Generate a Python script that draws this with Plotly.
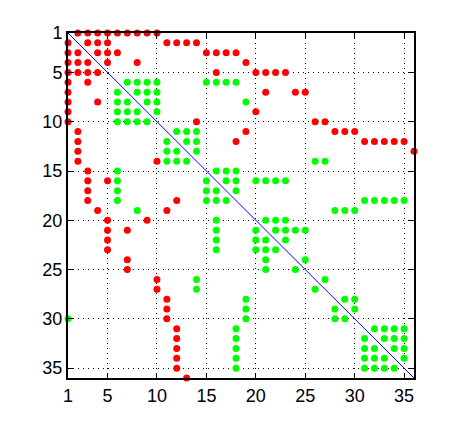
import plotly.graph_objects as go

n = 36
tick_vals = [1, 5, 10, 15, 20, 25, 30, 35]

red_by_row = {
    1: [2, 3, 4, 5, 6, 7, 8, 9, 10],
    2: [1, 3, 4, 5, 11, 12, 13, 14],
    3: [1, 2, 4, 5, 6, 15, 16, 17, 18],
    4: [1, 2, 3, 5, 8, 19],
    5: [1, 2, 3, 4, 16, 20, 21, 22, 23],
    6: [1, 3],
    7: [1, 21, 24, 25],
    8: [1, 4],
    9: [1, 20],
    10: [1, 14, 26, 27],
    11: [2, 19, 28, 29, 30],
    12: [2, 18, 31, 32, 33, 34, 35],
    13: [2, 36],
    14: [2, 10],
    15: [3],
    16: [3, 5],
    17: [3],
    18: [3, 12],
    19: [4, 11],
    20: [5, 9],
    21: [5, 7],
    22: [5],
    23: [5],
    24: [7],
    25: [7],
    26: [10],
    27: [10],
    28: [11],
    29: [11],
    30: [11],
    31: [12],
    32: [12],
    33: [12],
    34: [12],
    35: [12],
    36: [13],
}

green_by_row = {
    6: [7, 8, 9, 10, 15, 16, 17, 18],
    7: [6, 8, 9, 10],
    8: [6, 7, 9, 10, 19],
    9: [6, 7, 8, 10],
    10: [6, 7, 8, 9],
    11: [12, 13, 14],
    12: [11, 13, 14],
    13: [11, 12, 14],
    14: [11, 12, 13, 26, 27],
    15: [6, 16, 17, 18],
    16: [6, 15, 17, 18, 20, 21, 22, 23],
    17: [6, 15, 16, 18],
    18: [6, 15, 16, 17, 31, 32, 33, 34, 35],
    19: [8, 28, 29, 30],
    20: [16, 21, 22, 23],
    21: [16, 20, 22, 23, 24, 25],
    22: [16, 20, 21, 23],
    23: [16, 20, 21, 22],
    24: [21, 25],
    25: [21, 24],
    26: [14, 27],
    27: [14, 26],
    28: [19, 29, 30],
    29: [19, 28, 30],
    30: [1, 19, 28, 29],
    31: [18, 32, 33, 34, 35],
    32: [18, 31, 33, 34, 35],
    33: [18, 31, 32, 34, 35],
    34: [18, 31, 32, 33, 35],
    35: [18, 31, 32, 33, 34],
}


def flatten(d):
    rows, cols = [], []
    for r, cs in d.items():
        for c in cs:
            rows.append(r)
            cols.append(c)
    return rows, cols


red_rows, red_cols = flatten(red_by_row)
green_rows, green_cols = flatten(green_by_row)

fig = go.Figure()
fig.add_trace(go.Scatter(x=green_cols, y=green_rows, mode="markers",
                         marker=dict(color="#00FF00", size=7, symbol="circle", line=dict(width=0)),
                         cliponaxis=False, hoverinfo="skip"))
fig.add_trace(go.Scatter(x=red_cols, y=red_rows, mode="markers",
                         marker=dict(color="#FF0000", size=7, symbol="circle", line=dict(width=0)),
                         cliponaxis=False, hoverinfo="skip"))
fig.add_trace(go.Scatter(x=[1, n], y=[1, n], mode="lines",
                         line=dict(color="#0000FF", width=1), hoverinfo="skip"))

axis_common = dict(
    range=[1, n],
    tickvals=tick_vals,
    ticktext=[str(v) for v in tick_vals],
    showgrid=True,
    gridcolor="black",
    gridwidth=1,
    griddash="1px,4px",
    zeroline=False,
    showline=True,
    linecolor="black",
    linewidth=2,
    mirror="allticks",
    ticks="inside",
    ticklen=5,
    tickcolor="black",
    tickfont=dict(family="Liberation Sans, Arial, sans-serif", size=18, color="black"),
)

fig.update_layout(
    width=468,
    height=427,
    margin=dict(l=60, r=62, t=25, b=57),
    paper_bgcolor="white",
    plot_bgcolor="white",
    showlegend=False,
    xaxis=dict(**axis_common),
    yaxis=dict(**{**axis_common, "range": [n, 1]}),
)

fig.write_html("out.html")
